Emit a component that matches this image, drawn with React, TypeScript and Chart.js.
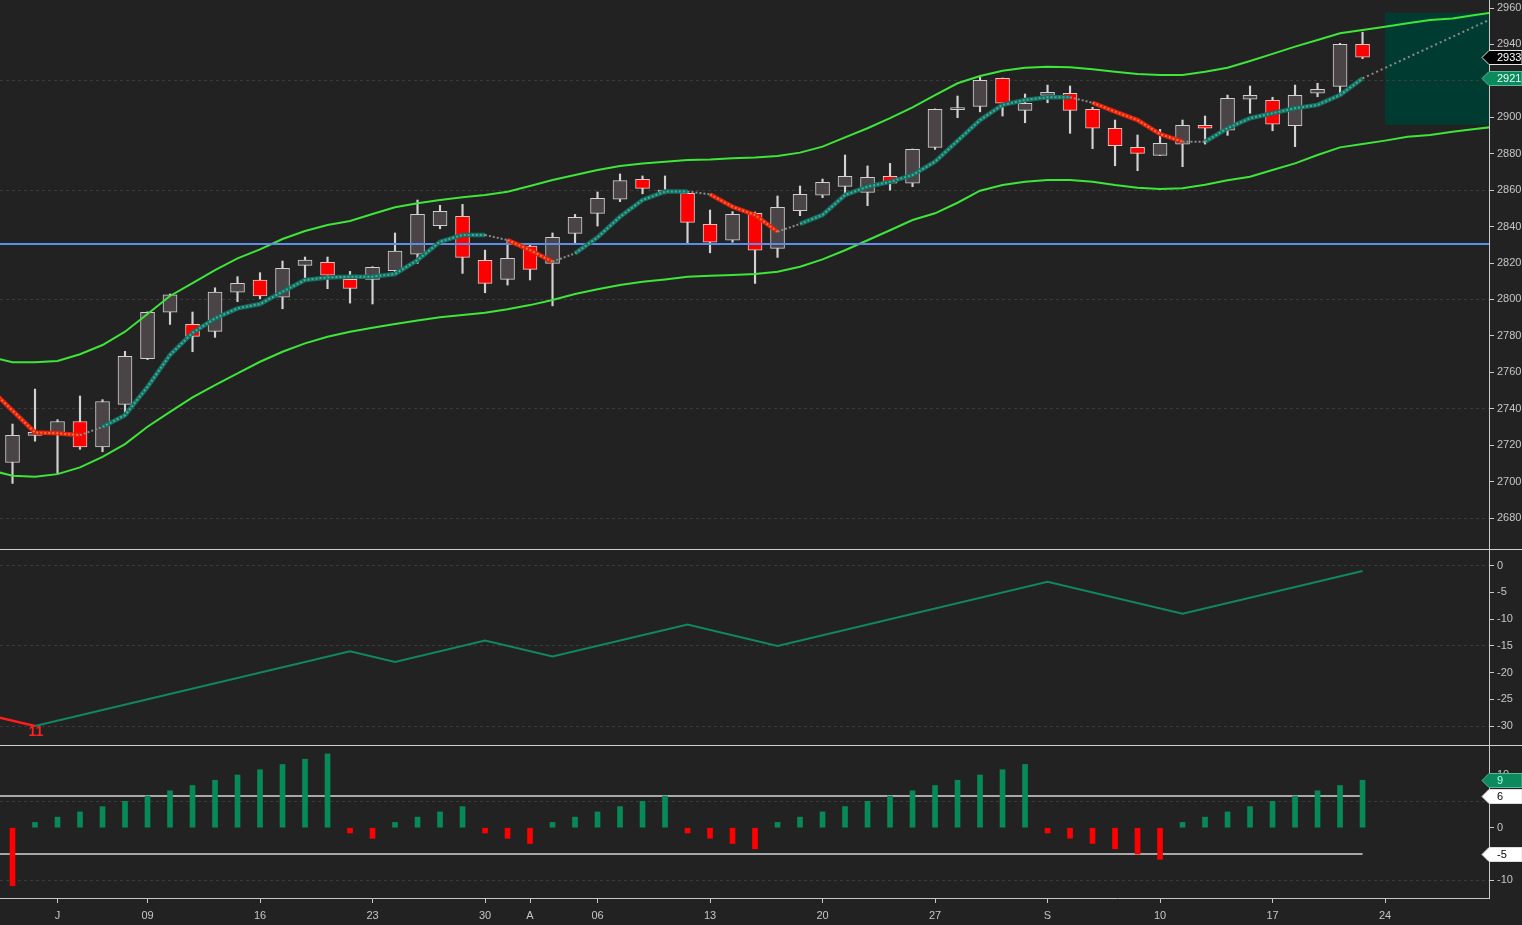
import React, { useEffect, useRef } from "react";
import { Chart, registerables } from "chart.js";

Chart.register(...registerables);

const FONT = "'Liberation Sans', Arial, Helvetica, sans-serif";

// ---- candles, one per trading day (day 0 = first visible candle) ----
const opens = [
  2710.5, 2725.4, 2726, 2733, 2719, 2742.4, 2767.5, 2793, 2786.3, 2782.5,
  2804, 2810.7, 2801.2, 2818.7, 2820.4, 2811, 2811, 2815.8, 2824.8, 2840.5,
  2845.6, 2821.5, 2811, 2829.3, 2819.8, 2836.3, 2847.3, 2855, 2866, 2859,
  2858.3, 2841.2, 2832.5, 2847.3, 2828, 2848.7, 2857.2, 2862.1, 2858.8, 2867.6,
  2863.8, 2883.5, 2904.2, 2906, 2921.4, 2903.8, 2912, 2913.2, 2904.4, 2894,
  2883.5, 2879.1, 2885.2, 2895.6, 2892.9, 2910, 2909.3, 2895.4, 2913.2, 2917,
  2940,
];
const highs = [
  2731.6, 2750.8, 2734, 2747, 2745, 2771.5, 2793.2, 2803, 2793.1, 2806.4,
  2812.5, 2814.7, 2821.1, 2823.3, 2823.3, 2815.4, 2818, 2836.5, 2854.6, 2851.7,
  2852.2, 2827.1, 2832.6, 2830.8, 2836.5, 2846.7, 2859, 2868.9, 2867.8, 2867.8,
  2858.5, 2849.1, 2848.2, 2848, 2856.8, 2862.3, 2866.1, 2879.3, 2873.3, 2874.7,
  2882.6, 2904.6, 2911.7, 2922, 2921.6, 2912.8, 2917.7, 2917.2, 2905.5, 2898.5,
  2890.3, 2893.4, 2898.5, 2900.7, 2912.2, 2917.2, 2911, 2917.7, 2918.7, 2940.6,
  2946.7,
];
const lows = [
  2699, 2722.2, 2704.5, 2717.7, 2716.4, 2737.5, 2767, 2786.3, 2771.3, 2779.2,
  2798.8, 2800.4, 2794.9, 2811.6, 2805.9, 2798, 2797.5, 2815, 2819.8, 2838.8,
  2814.3, 2803.7, 2807.9, 2810.7, 2796.5, 2830.4, 2840.3, 2853.7, 2858, 2858,
  2831.1, 2825.6, 2831.4, 2808.8, 2823.1, 2846, 2855.9, 2857.9, 2851.5, 2860,
  2861.9, 2882.4, 2899.8, 2903, 2900.7, 2897, 2908, 2891.2, 2882.8, 2873.4,
  2870.7, 2879, 2872.9, 2885.3, 2890.1, 2902.2, 2892.6, 2883.9, 2911.3, 2913.5,
  2932.2,
];
const closes = [
  2725.4, 2727, 2733, 2719, 2744, 2768.8, 2793, 2802.5, 2779.7, 2804,
  2808.8, 2802, 2817.1, 2821.6, 2813.4, 2806, 2817.6, 2826.6, 2846.7, 2848.4,
  2823.1, 2808.8, 2822.6, 2816.5, 2834.1, 2845.1, 2855.5, 2865.2, 2861, 2859.8,
  2842.3, 2831.4, 2846.7, 2827, 2850.6, 2857.7, 2864.3, 2867.6, 2867, 2863.8,
  2882.4, 2904.4, 2905.2, 2920.3, 2907.7, 2907.7, 2913.7, 2903.8, 2894, 2884.4,
  2880.2, 2885.7, 2895.6, 2894, 2910.4, 2912, 2896.2, 2912.1, 2915.4, 2940,
  2933,
];

// smoothed average, first value is one day before the first candle (day -1)
const maValues = [
  2751, 2739, 2727, 2726.5, 2725.5, 2730, 2736.5, 2752, 2769.5, 2781.7,
  2789.6, 2795.1, 2797.5, 2804.2, 2810.7, 2812.1, 2812.5, 2812.5, 2814, 2821.6,
  2831.7, 2835.4, 2835.4, 2832.6, 2827.1, 2820.7, 2825.3, 2834.1, 2845.4, 2854.6,
  2859.2, 2859.2, 2857.7, 2850.9, 2846.4, 2837.2, 2841.5, 2846.4, 2857.3, 2861.9,
  2864.6, 2868.3, 2875.6, 2887.1, 2898.5, 2906.8, 2909.5, 2911, 2911, 2908,
  2903.1, 2898.5, 2890.8, 2886.6, 2886.6, 2894, 2899.5, 2902.2, 2905, 2906.8,
  2912.2, 2921.4,
];
// segment direction runs: u = rising, d = falling, f = turning
const maRuns: [string, number][] = [
  ["d", 4], ["f", 1], ["u", 17], ["f", 1], ["d", 2], ["f", 1], ["u", 5], ["f", 1],
  ["d", 3], ["f", 1], ["u", 12], ["f", 1], ["d", 4], ["f", 1], ["u", 7],
];
const projectionDays = [60, 66];
const projectionValues = [2921.4, 2955.6];

// channel, day -1 .. day 66 (runs past the last candle)
const upperBand = [
  2768.5, 2765.5, 2765.5, 2766.2, 2769.9, 2775, 2782.3, 2792, 2801.9, 2808.9,
  2816.1, 2822.6, 2827.5, 2833.2, 2837.6, 2840.9, 2843.1, 2846.9, 2850.6, 2852.8,
  2854.6, 2856.1, 2857.3, 2859.1, 2862.3, 2865.6, 2868.3, 2871.1, 2873.3, 2874.7,
  2875.6, 2876.6, 2876.9, 2877.5, 2878, 2878.8, 2880.6, 2883.9, 2889, 2894,
  2899.5, 2905.5, 2912.2, 2918.7, 2922.7, 2925.6, 2927.2, 2927.8, 2927.5, 2926.4,
  2925, 2923.8, 2923.2, 2923.2, 2925, 2927.2, 2930.9, 2934.8, 2938.8, 2942.4,
  2946.1, 2947.9, 2949.7, 2951.6, 2953.4, 2954.3, 2956.2, 2958,
];
const lowerBand = [
  2706.3, 2703.2, 2702.7, 2704.1, 2707.8, 2713.6, 2720.6, 2730.1, 2738.3, 2746.2,
  2753, 2759.4, 2765.8, 2771.3, 2775.9, 2779.5, 2782.3, 2784.5, 2786.5, 2788.5,
  2790.2, 2791.5, 2792.7, 2794.6, 2796.9, 2799.7, 2803, 2805.6, 2807.9, 2809.7,
  2811, 2812.5, 2813, 2813.4, 2814, 2815.2, 2818, 2822, 2827, 2832.5,
  2838, 2843.6, 2847.3, 2853.1, 2859.7, 2862.8, 2864.6, 2865.6, 2865.6, 2864.6,
  2862.8, 2861.3, 2860.6, 2861, 2863, 2865.5, 2867.4, 2871.1, 2874.7, 2879.3,
  2883.5, 2885.3, 2887.2, 2889.3, 2890.3, 2892.1, 2893.6, 2895,
];

const supportLevel = 2830.4;
const targetDays = [61, 66];
const targetRange = [2895.8, 2957.4];

// swing line (middle pane)
const swingDays = [1, 15, 17, 21, 24, 30, 34, 46, 52, 60];
const swingValues = [-30, -16, -18, -14, -17, -11, -15, -3, -9, -1];
const priorSwingDays = [-2, 1];
const priorSwingValues = [-27, -30];
const swingCountLabel = "11";

// trend count histogram (bottom pane)
const trendCount = [
  -11, 1, 2, 3, 4, 5, 6, 7, 8, 9, 10, 11, 12, 13, 14, -1, -2, 1, 2, 3, 4,
  -1, -2, -3, 1, 2, 3, 4, 5, 6, -1, -2, -3, -4, 1, 2, 3, 4, 5, 6, 7, 8, 9,
  10, 11, 12, -1, -2, -3, -4, -5, -6, 1, 2, 3, 4, 5, 6, 7, 8, 9,
];
const trendUpper = 6;
const trendLower = -5;

// axes
const xTickDays = [2, 6, 11, 16, 21, 23, 26, 31, 36, 41, 46, 51, 56, 61];
const xTickLabels = ["J", "09", "16", "23", "30", "A", "06", "13", "20", "27", "S", "10", "17", "24"];
const priceTicks = [2680, 2700, 2720, 2740, 2760, 2780, 2800, 2820, 2840, 2860, 2880, 2900, 2920, 2940, 2960];
const priceGrid = [2680, 2740, 2800, 2860, 2920];
const swingTicks = [0, -5, -10, -15, -20, -25, -30];
const swingGrid = [0, -15, -30];
const countTicks = [10, 5, 0, -5, -10];
const countGrid = [5, -10];

const BG = "#222222";
const TEXT = "#c6c6c6";
const EDGE = "#c9c9c9";
const GRID = "#3c3c3c";
const GREEN = "#078a57";
const RED = "#ff0000";
const X_MIN = -0.556;
const X_MAX = 65.62;

function noPadding(s: any) {
  s.paddingTop = 0;
  s.paddingBottom = 0;
  s.paddingLeft = 0;
  s.paddingRight = 0;
}

function xAxis(show: boolean): any {
  return {
    type: "linear",
    min: X_MIN,
    max: X_MAX,
    bounds: "data",
    offset: false,
    display: show,
    afterBuildTicks: (s: any) => {
      s.ticks = xTickDays.map((value) => ({ value }));
    },
    afterFit: (s: any) => {
      noPadding(s);
      if (show) s.height = 27;
    },
    grid: { drawOnChartArea: false, drawTicks: true, tickLength: 5, tickColor: EDGE, offset: false },
    border: { display: true, color: EDGE },
    ticks: {
      color: TEXT,
      padding: 6,
      autoSkip: false,
      maxRotation: 0,
      font: { size: 11 },
      callback: (_v: any, i: number) => xTickLabels[i],
    },
  };
}

function yAxis(min: number, max: number, ticks: number[], gridAt: number[]): any {
  return {
    type: "linear",
    position: "right",
    min,
    max,
    bounds: "data",
    afterBuildTicks: (s: any) => {
      s.ticks = ticks.map((value) => ({ value }));
    },
    afterFit: (s: any) => {
      noPadding(s);
      s.width = 33;
    },
    grid: {
      color: (c: any) => (gridAt.includes(c.tick?.value) ? GRID : "transparent"),
      tickColor: EDGE,
      tickLength: 5,
    },
    border: { display: true, color: EDGE, dash: [3, 3] },
    ticks: { color: TEXT, padding: 3, font: { size: 11 }, callback: (v: any) => String(v) },
  };
}

function baseOptions(x: any, y: any): any {
  return {
    animation: false,
    responsive: true,
    maintainAspectRatio: false,
    events: [],
    layout: { padding: 0 },
    plugins: { legend: { display: false }, tooltip: { enabled: false } },
    scales: { x, y },
  };
}

function line(points: { x: number; y: number }[], color: string, width: number, extra: any = {}): any {
  return {
    type: "line",
    data: points,
    borderColor: color,
    borderWidth: width,
    pointRadius: 0,
    fill: false,
    tension: 0,
    clip: 0,
    ...extra,
  };
}

// right-axis value tags
function tagsPlugin(tags: any[]): any {
  return {
    id: "tags",
    afterDraw(chart: any) {
      const { ctx, chartArea } = chart;
      const scale = chart.scales.y;
      const ax = chartArea.right;
      const right = chart.width;
      ctx.save();
      ctx.font = `11px ${FONT}`;
      ctx.textBaseline = "middle";
      ctx.textAlign = "left";
      tags.forEach((t) => {
        const py = Math.round(scale.getPixelForValue(t.value)) + 0.5;
        ctx.beginPath();
        ctx.moveTo(ax - 7, py);
        ctx.lineTo(ax, py - 7);
        ctx.lineTo(right, py - 7);
        ctx.lineTo(right, py + 7);
        ctx.lineTo(ax, py + 7);
        ctx.closePath();
        ctx.fillStyle = t.fill;
        ctx.fill();
        ctx.strokeStyle = t.edge;
        ctx.lineWidth = 1;
        ctx.stroke();
        ctx.fillStyle = t.color;
        ctx.fillText(t.text, ax + 8, py + 0.5);
      });
      ctx.restore();
    },
  };
}

const targetBoxPlugin: any = {
  id: "targetBox",
  beforeDraw(chart: any) {
    const { ctx, chartArea, scales } = chart;
    const left = scales.x.getPixelForValue(targetDays[0]);
    const right = Math.min(chartArea.right, scales.x.getPixelForValue(targetDays[1]));
    const top = scales.y.getPixelForValue(targetRange[1]);
    const bottom = scales.y.getPixelForValue(targetRange[0]);
    ctx.save();
    ctx.fillStyle = "#003b31";
    ctx.fillRect(left, top, right - left, bottom - top);
    ctx.restore();
  },
};

const swingLabelPlugin: any = {
  id: "swingLabel",
  afterDatasetsDraw(chart: any) {
    const { ctx, scales } = chart;
    const px = scales.x.getPixelForValue(swingDays[0]);
    const py = scales.y.getPixelForValue(swingValues[0]);
    ctx.save();
    ctx.fillStyle = "#ff2020";
    ctx.font = `bold 14px ${FONT}`;
    ctx.textAlign = "center";
    ctx.textBaseline = "top";
    ctx.fillText(swingCountLabel, px + 1, py - 1);
    ctx.restore();
  },
};

export default function App() {
  const mainRef = useRef<HTMLCanvasElement>(null);
  const swingRef = useRef<HTMLCanvasElement>(null);
  const countRef = useRef<HTMLCanvasElement>(null);

  useEffect(() => {
    if (!mainRef.current || !swingRef.current || !countRef.current) return;
    Chart.defaults.font.family = FONT;
    Chart.defaults.font.size = 11;
    Chart.defaults.color = TEXT;

    const days = opens.map((_, i) => i);
    const trend: string[] = [];
    maRuns.forEach(([dir, n]) => {
      for (let k = 0; k < n; k++) trend.push(dir);
    });
    const maBase: Record<string, string> = { u: "#176f62", d: "#e3210c", f: "transparent" };
    const maDots: Record<string, string> = { u: "#3fae9c", d: "#ff6a3c", f: "#8c8c8c" };
    const maPoints = maValues.map((v, k) => ({ x: k - 1, y: v }));
    const bandUp = upperBand.map((v, k) => ({ x: k - 1, y: v }));
    const bandLow = lowerBand.map((v, k) => ({ x: k - 1, y: v }));

    const main = new Chart(mainRef.current, {
      type: "bar",
      data: {
        datasets: [
          {
            type: "bar",
            data: days.map((i) => ({ x: i, y: [lows[i], highs[i]] })),
            backgroundColor: "#d2d2d2",
            barThickness: 1.5,
            grouped: false,
            order: 10,
          },
          {
            type: "bar",
            data: days.map((i) => ({ x: i, y: [opens[i], closes[i]] })),
            backgroundColor: days.map((i) => (closes[i] >= opens[i] ? "#4a4446" : RED)),
            borderColor: days.map((i) => (closes[i] >= opens[i] ? "#d0d0d0" : "#e8c8c8")),
            borderWidth: 1,
            borderSkipped: false,
            minBarLength: 2,
            barThickness: 14,
            grouped: false,
            order: 9,
          },
          line(bandUp, "#3de639", 2, { order: 8 }),
          line(bandLow, "#3de639", 2, { order: 8 }),
          line(
            [{ x: -1, y: supportLevel }, { x: 67, y: supportLevel }],
            "#5a8ee8",
            2,
            { order: 7 }
          ),
          line(maPoints, maBase.u, 4.5, {
            order: 6,
            segment: { borderColor: (c: any) => maBase[trend[c.p0DataIndex]] },
          }),
          line(maPoints, maDots.u, 2, {
            order: 5,
            borderDash: [2, 2],
            segment: { borderColor: (c: any) => maDots[trend[c.p0DataIndex]] },
          }),
          line(
            projectionDays.map((d, k) => ({ x: d, y: projectionValues[k] })),
            "#8c8c8c",
            2,
            { order: 4, borderDash: [2, 3] }
          ),
        ],
      } as any,
      options: baseOptions(xAxis(false), yAxis(2663.0, 2964.4, priceTicks, priceGrid)),
      plugins: [
        targetBoxPlugin,
        tagsPlugin([
          { value: closes[closes.length - 1], text: String(Math.round(closes[closes.length - 1])), fill: "#000000", edge: "#e6e6e6", color: "#ffffff" },
          { value: maValues[maValues.length - 1], text: String(Math.round(maValues[maValues.length - 1])), fill: "#0b8a5e", edge: "#5fb89a", color: "#eafff7" },
        ]),
      ],
    });

    const swing = new Chart(swingRef.current, {
      type: "line",
      data: {
        datasets: [
          line(priorSwingDays.map((d, k) => ({ x: d, y: priorSwingValues[k] })), "#ff1c1c", 2.5),
          line(swingDays.map((d, k) => ({ x: d, y: swingValues[k] })), "#11875f", 2),
        ],
      } as any,
      options: baseOptions(xAxis(false), yAxis(-33.55, 2.94, swingTicks, swingGrid)),
      plugins: [swingLabelPlugin],
    });

    const count = new Chart(countRef.current, {
      type: "bar",
      data: {
        datasets: [
          {
            type: "bar",
            data: days.map((i) => ({ x: i, y: trendCount[i] })),
            backgroundColor: days.map((i) => (trendCount[i] >= 0 ? GREEN : RED)),
            barThickness: 5,
            grouped: false,
            order: 1,
          },
          line([{ x: -1, y: trendUpper }, { x: days.length - 1, y: trendUpper }], "#a8a8a8", 2, { order: 2 }),
          line([{ x: -1, y: trendLower }, { x: days.length - 1, y: trendLower }], "#a8a8a8", 2, { order: 2 }),
        ],
      } as any,
      options: baseOptions(xAxis(true), yAxis(-13.34, 15.5, countTicks, countGrid)),
      plugins: [
        tagsPlugin([
          { value: trendCount[trendCount.length - 1], text: String(trendCount[trendCount.length - 1]), fill: "#0b8a5e", edge: "#5fb89a", color: "#a6ffe6" },
          { value: trendUpper, text: String(trendUpper), fill: "#ffffff", edge: "#dddddd", color: "#000000" },
          { value: trendLower, text: String(trendLower), fill: "#ffffff", edge: "#dddddd", color: "#000000" },
        ]),
      ],
    });

    return () => {
      main.destroy();
      swing.destroy();
      count.destroy();
    };
  }, []);

  const pane = (top: number, height: number): React.CSSProperties => ({
    position: "absolute",
    left: 0,
    top,
    width: 1522,
    height,
  });
  const rule = (top: number): React.CSSProperties => ({
    position: "absolute",
    left: 0,
    top,
    width: 1522,
    height: 1,
    background: "#cfcfcf",
  });

  return (
    <div
      style={{
        position: "fixed",
        left: 0,
        top: 0,
        width: 1522,
        height: 925,
        background: BG,
        overflow: "hidden",
      }}
    >
      <div style={pane(0, 549)}>
        <canvas ref={mainRef} />
      </div>
      <div style={rule(549)} />
      <div style={pane(550, 195)}>
        <canvas ref={swingRef} />
      </div>
      <div style={rule(745)} />
      <div style={pane(746, 179)}>
        <canvas ref={countRef} />
      </div>
    </div>
  );
}
